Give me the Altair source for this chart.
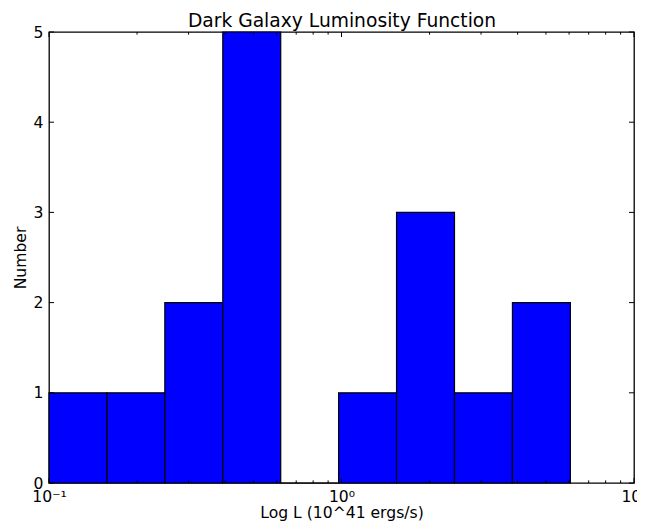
import altair as alt
import pandas as pd

# Histogram data (bin edges in 10^41 ergs/s, counts)
bin_lo = [0.1, 0.1578, 0.2489, 0.3928, 0.6197, 0.9775, 1.5424, 2.4338, 3.8404]
bin_hi = [0.1578, 0.2489, 0.3928, 0.6197, 0.9775, 1.5424, 2.4338, 3.8404, 6.0598]
counts = [1, 1, 2, 5, 0, 1, 3, 1, 2]

# Axis tick values
x_major = [0.1, 1, 10]
x_minor = [0.2, 0.3, 0.4, 0.5, 0.6, 0.7, 0.8, 0.9, 2, 3, 4, 5, 6, 7, 8, 9]
y_major = [0, 1, 2, 3, 4, 5]

TITLE = "Dark Galaxy Luminosity Function"
W, H = 585, 451
FONT = "DejaVu Sans"
MAJ, MIN = 5, 2.6

bars_df = pd.DataFrame({"lo": bin_lo, "hi": bin_hi, "n": counts})
xmaj_df = pd.DataFrame({"v": x_major})
xmin_df = pd.DataFrame({"v": x_minor})
ymaj_df = pd.DataFrame({"v": y_major})

xscale = alt.Scale(type="log", domain=[0.1, 10], nice=False)
yscale = alt.Scale(domain=[0, 5], nice=False, zero=True)

common = dict(
    grid=False, ticks=False, domain=False, tickSize=0,
    labelFlush=False, labelOverlap=False, labelBound=False,
    labelFont=FONT, labelFontSize=15.6, labelColor="black",
    titleFont=FONT, titleFontWeight="normal", titleColor="black",
    titleBaseline="alphabetic",
)

xaxis = alt.Axis(
    title="Log L (10^41 ergs/s)",
    values=x_major,
    labelExpr="datum.value < 0.5 ? '10⁻¹' : (datum.value < 5 ? '10⁰' : '10¹')",
    labelBaseline="alphabetic", labelPadding=18,
    titleFontSize=15.6, titleY=34,
    **common,
)
topaxis = alt.Axis(
    orient="top", title=TITLE, labels=False,
    titleFontSize=18.7, titleY=-6,
    **common,
)
yaxis = alt.Axis(
    title="Number",
    values=y_major,
    format="d",
    labelPadding=6,
    titleFontSize=15.6, titleX=-24,
    **common,
)

bars = alt.Chart(bars_df).mark_rect(
    fill="#0000ff", stroke="black", strokeWidth=1.2
).encode(
    x=alt.X("lo:Q", scale=xscale, axis=xaxis),
    x2="hi:Q",
    y=alt.Y("n:Q", scale=yscale, axis=yaxis),
    y2=alt.datum(0),
)

def xtick_layer(df, length, at_top, axis):
    ypos = (alt.value(0), alt.value(length)) if at_top else (alt.value(H), alt.value(H - length))
    return alt.Chart(df).mark_rule(color="black", strokeWidth=1).encode(
        x=alt.X("v:Q", scale=xscale, axis=axis),
        y=ypos[0], y2=ypos[1],
    )

xt = [
    xtick_layer(xmaj_df, MAJ, True, topaxis),
    xtick_layer(xmaj_df, MAJ, False, None),
    xtick_layer(xmin_df, MIN, True, None),
    xtick_layer(xmin_df, MIN, False, None),
]

yleft = alt.Chart(ymaj_df).mark_rule(color="black", strokeWidth=1).encode(
    y=alt.Y("v:Q", scale=yscale, axis=yaxis),
    x=alt.value(0), x2=alt.value(MAJ),
)
yright = alt.Chart(ymaj_df).mark_rule(color="black", strokeWidth=1).encode(
    y=alt.Y("v:Q", scale=yscale, axis=yaxis),
    x=alt.value(W), x2=alt.value(W - MAJ),
)

chart = alt.layer(
    bars, *xt, yleft, yright
).resolve_axis(
    x="independent"
).properties(
    width=W,
    height=H,
    autosize=alt.AutoSizeParams(type="none"),
    padding={"left": 41, "top": 24, "right": 3, "bottom": 38},
).configure_view(
    stroke="black", strokeWidth=1.3
)

chart.save("out.html", embed_options={"renderer": "svg", "actions": False})
